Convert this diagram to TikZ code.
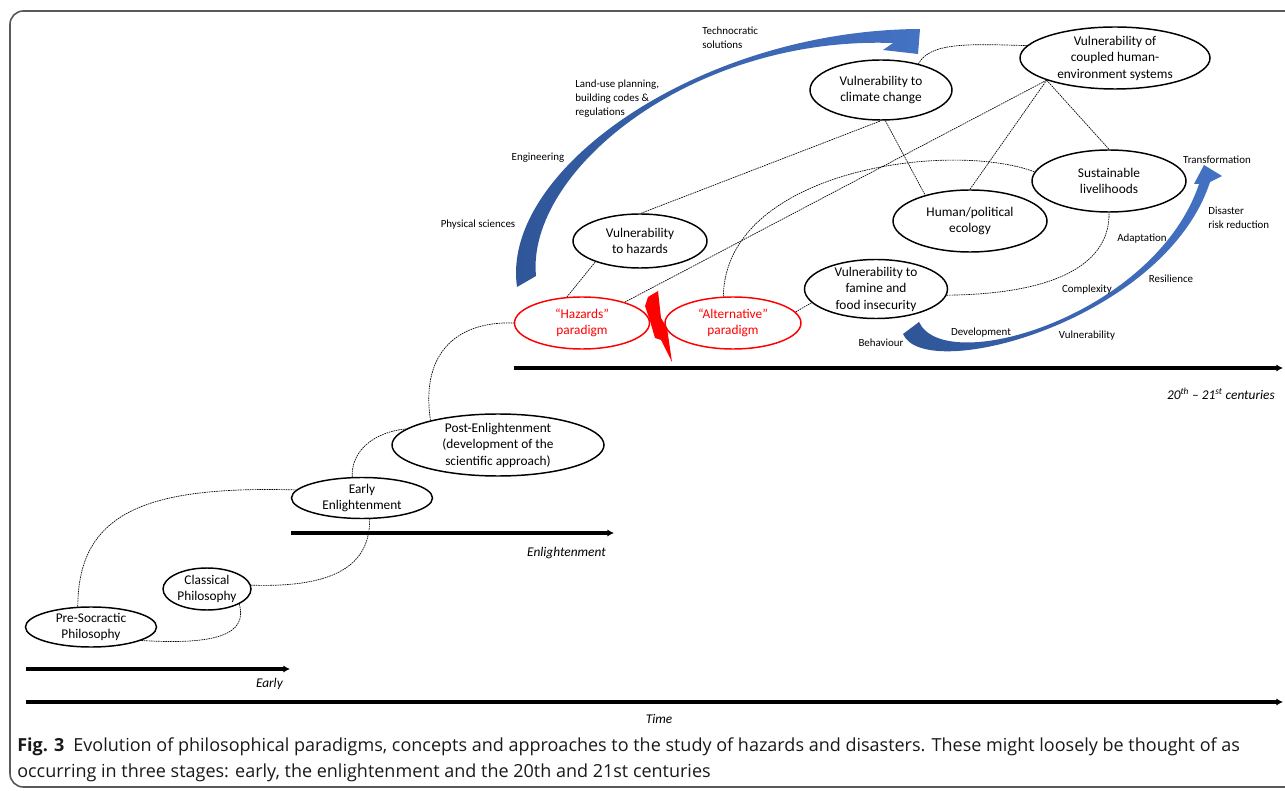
\documentclass[tikz,border=0pt]{standalone}
\usepackage{fontspec}
\setmainfont{Carlito}
\IfFontExistsTF{Open Sans}{\newfontfamily\capfont{Open Sans}}{\newfontfamily\capfont{Carlito}}
\usetikzlibrary{shapes.geometric, arrows.meta}
\definecolor{darkblue}{RGB}{47,85,151}
\definecolor{lightblue}{RGB}{68,114,196}
\gdef\Vfill{white}

\begin{document}
\begin{tikzpicture}[x=0.75pt, y=-0.75pt,
  idea/.style={draw, ellipse, line width=1.1pt, fill=\Vfill, align=center, inner xsep=0pt, inner ysep=-4pt, font=\fontsize{10}{12.4}\selectfont},
  redidea/.style={idea, draw=red, text=red},
  link/.style={dash pattern=on 1.2pt off 0.6pt, line width=0.5pt},
  tag/.style={align=left, inner sep=0pt, font=\fontsize{8.2}{10.5}\selectfont},
  era/.style={line width=2.3pt, -{Latex[length=5pt, width=5.5pt]}},
  eralabel/.style={inner sep=0pt, font=\fontsize{10}{12}\selectfont\itshape},
  captext/.style={anchor=base west, inner sep=0pt, text=black!90, font=\capfont\fontsize{13.5}{19.5}\selectfont}]
\clip (0,0) rectangle (1285,791);

\node[idea, minimum width=98.3pt, minimum height=30pt] (pre) at (91,627) {Pre-Socractic\\Philosophy};
\node[idea, minimum width=66pt, minimum height=31.5pt] (classical) at (207,589) {Classical\\Philosophy};
\node[idea, minimum width=105.75pt, minimum height=30.75pt] (early) at (362,498) {Early\\Enlightenment};
\node[idea, minimum width=159pt, minimum height=46.5pt] (post) at (498,445) {Post-Enlightenment\\(development of the\\scientific approach)};
\node[redidea, minimum width=101.25pt, minimum height=39pt] (hazpar) at (582,323) {``Hazards''\\paradigm};
\node[redidea, minimum width=102pt, minimum height=39pt] (altpar) at (733,323) {``Alternative''\\paradigm};
\node[idea, minimum width=100.5pt, minimum height=40.5pt] (vhaz) at (640,241) {Vulnerability\\to hazards};
\node[idea, minimum width=107.25pt, minimum height=44.25pt] (famine) at (876,289) {Vulnerability to\\famine and\\food insecurity};
\node[idea, minimum width=115.5pt, minimum height=46.5pt] (ecology) at (970,221) {Human/political\\ecology};
\node[idea, minimum width=115.5pt, minimum height=46.5pt] (liveli) at (1109,181) {Sustainable\\livelihoods};
\node[idea, minimum width=106.5pt, minimum height=45pt] (climate) at (881,90) {Vulnerability to\\climate change};
\node[idea, minimum width=142.5pt, minimum height=46.5pt] (coupled) at (1115,58) {Vulnerability of\\coupled human-\\environment systems};

\draw[link] (pre.123) .. controls (78,510) and (150,486) .. (early.173);
\draw[link] (pre.345) .. controls (215,645) and (248,635) .. (classical.335);
\draw[link] (classical.5) .. controls (335,588) and (370,565) .. (early.290);
\draw[link] (early.115) .. controls (351,450) and (375,432) .. (post.170);
\draw[link] (post.160) .. controls (420,350) and (460,321) .. (hazpar.180);
\draw[link] (hazpar.120) -- (vhaz.205);
\draw[link] (vhaz.88) -- (climate.270);
\draw[link] (hazpar.26) -- (coupled.198);
\draw[link] (climate.278) -- (ecology.150);
\draw[link] (ecology.north) -- (coupled.198);
\draw[link] (liveli.north) -- (coupled.198);
\draw[link] (climate.35) .. controls (930,42) and (970,44) .. (coupled.172);
\draw[link] (altpar.110) .. controls (725,170) and (950,140) .. (liveli.173);
\draw[link] (altpar.10) -- (famine.192);
\draw[link] (famine.355) .. controls (1060,294) and (1110,262) .. (liveli.south);

\draw[era] (26,669) -- (290,669);
\draw[era] (291,533) -- (614,533);
\draw[era] (514,368) -- (1283,368);
\draw[era] (26,702) -- (1283,702);
\node[eralabel, anchor=east] (earlylab) at (283,684) {Early};
\node[eralabel, anchor=east] (enllab) at (606,553) {Enlightenment};
\node[eralabel, anchor=east] (cenlab) at (1275,394) {20\textsuperscript{th} -- 21\textsuperscript{st} centuries};
\node[eralabel] (timelab) at (659,719) {Time};

\shade[left color=darkblue, right color=lightblue] (517,287) .. controls (500,170) and (700,30) .. (920,29) -- (918,54) -- (883,50) -- (893,43) .. controls (690,36) and (526,172) .. (536,276) -- cycle;
\shade[left color=darkblue, right color=lightblue] (903,334) .. controls (925,385) and (1165,320) .. (1210,182) -- (1222,176) -- (1204,165) -- (1194,184) -- (1199,184) .. controls (1155,315) and (945,378) .. (919,322) -- cycle;
\fill[red] (648,297) -- (658,291) -- (661,318) -- (667,328) -- (672,362) -- (661,340) -- (655,338) -- (650,321) -- (645,306) -- cycle;

\node[tag, anchor=north west] (techno) at (702,27) {Technocratic\\solutions};
\node[tag, anchor=north west] (landuse) at (575,80) {Land-use planning,\\building codes \&\\regulations};
\node[tag] (engin) at (538,158) {Engineering};
\node[tag] (physci) at (478,225) {Physical sciences};
\node[tag] (transf) at (1217,160) {Transformation};
\node[tag, anchor=north west] (drr) at (1208,207) {Disaster\\risk reduction};
\node[tag] (adapt) at (1142,239) {Adaptation};
\node[tag] (resil) at (1171,279) {Resilience};
\node[tag] (complex) at (1087,290) {Complexity};
\node[tag] (vulner) at (1087,336) {Vulnerability};
\node[tag] (devel) at (981,333) {Development};
\node[tag] (behav) at (881,343) {Behaviour};

\node[captext] (cap1) at (17,751) {\textbf{Fig. 3}\enspace Evolution of philosophical paradigms, concepts and approaches to the study of hazards and disasters. These might loosely be thought of as};
\node[captext] (cap2) at (17,777) {occurring in three stages: early, the enlightenment and the 20th and 21st centuries};

\draw[black!65, line width=1.2pt, rounded corners=10pt] (10,11) rectangle (1310,787);
\end{tikzpicture}
\end{document}
